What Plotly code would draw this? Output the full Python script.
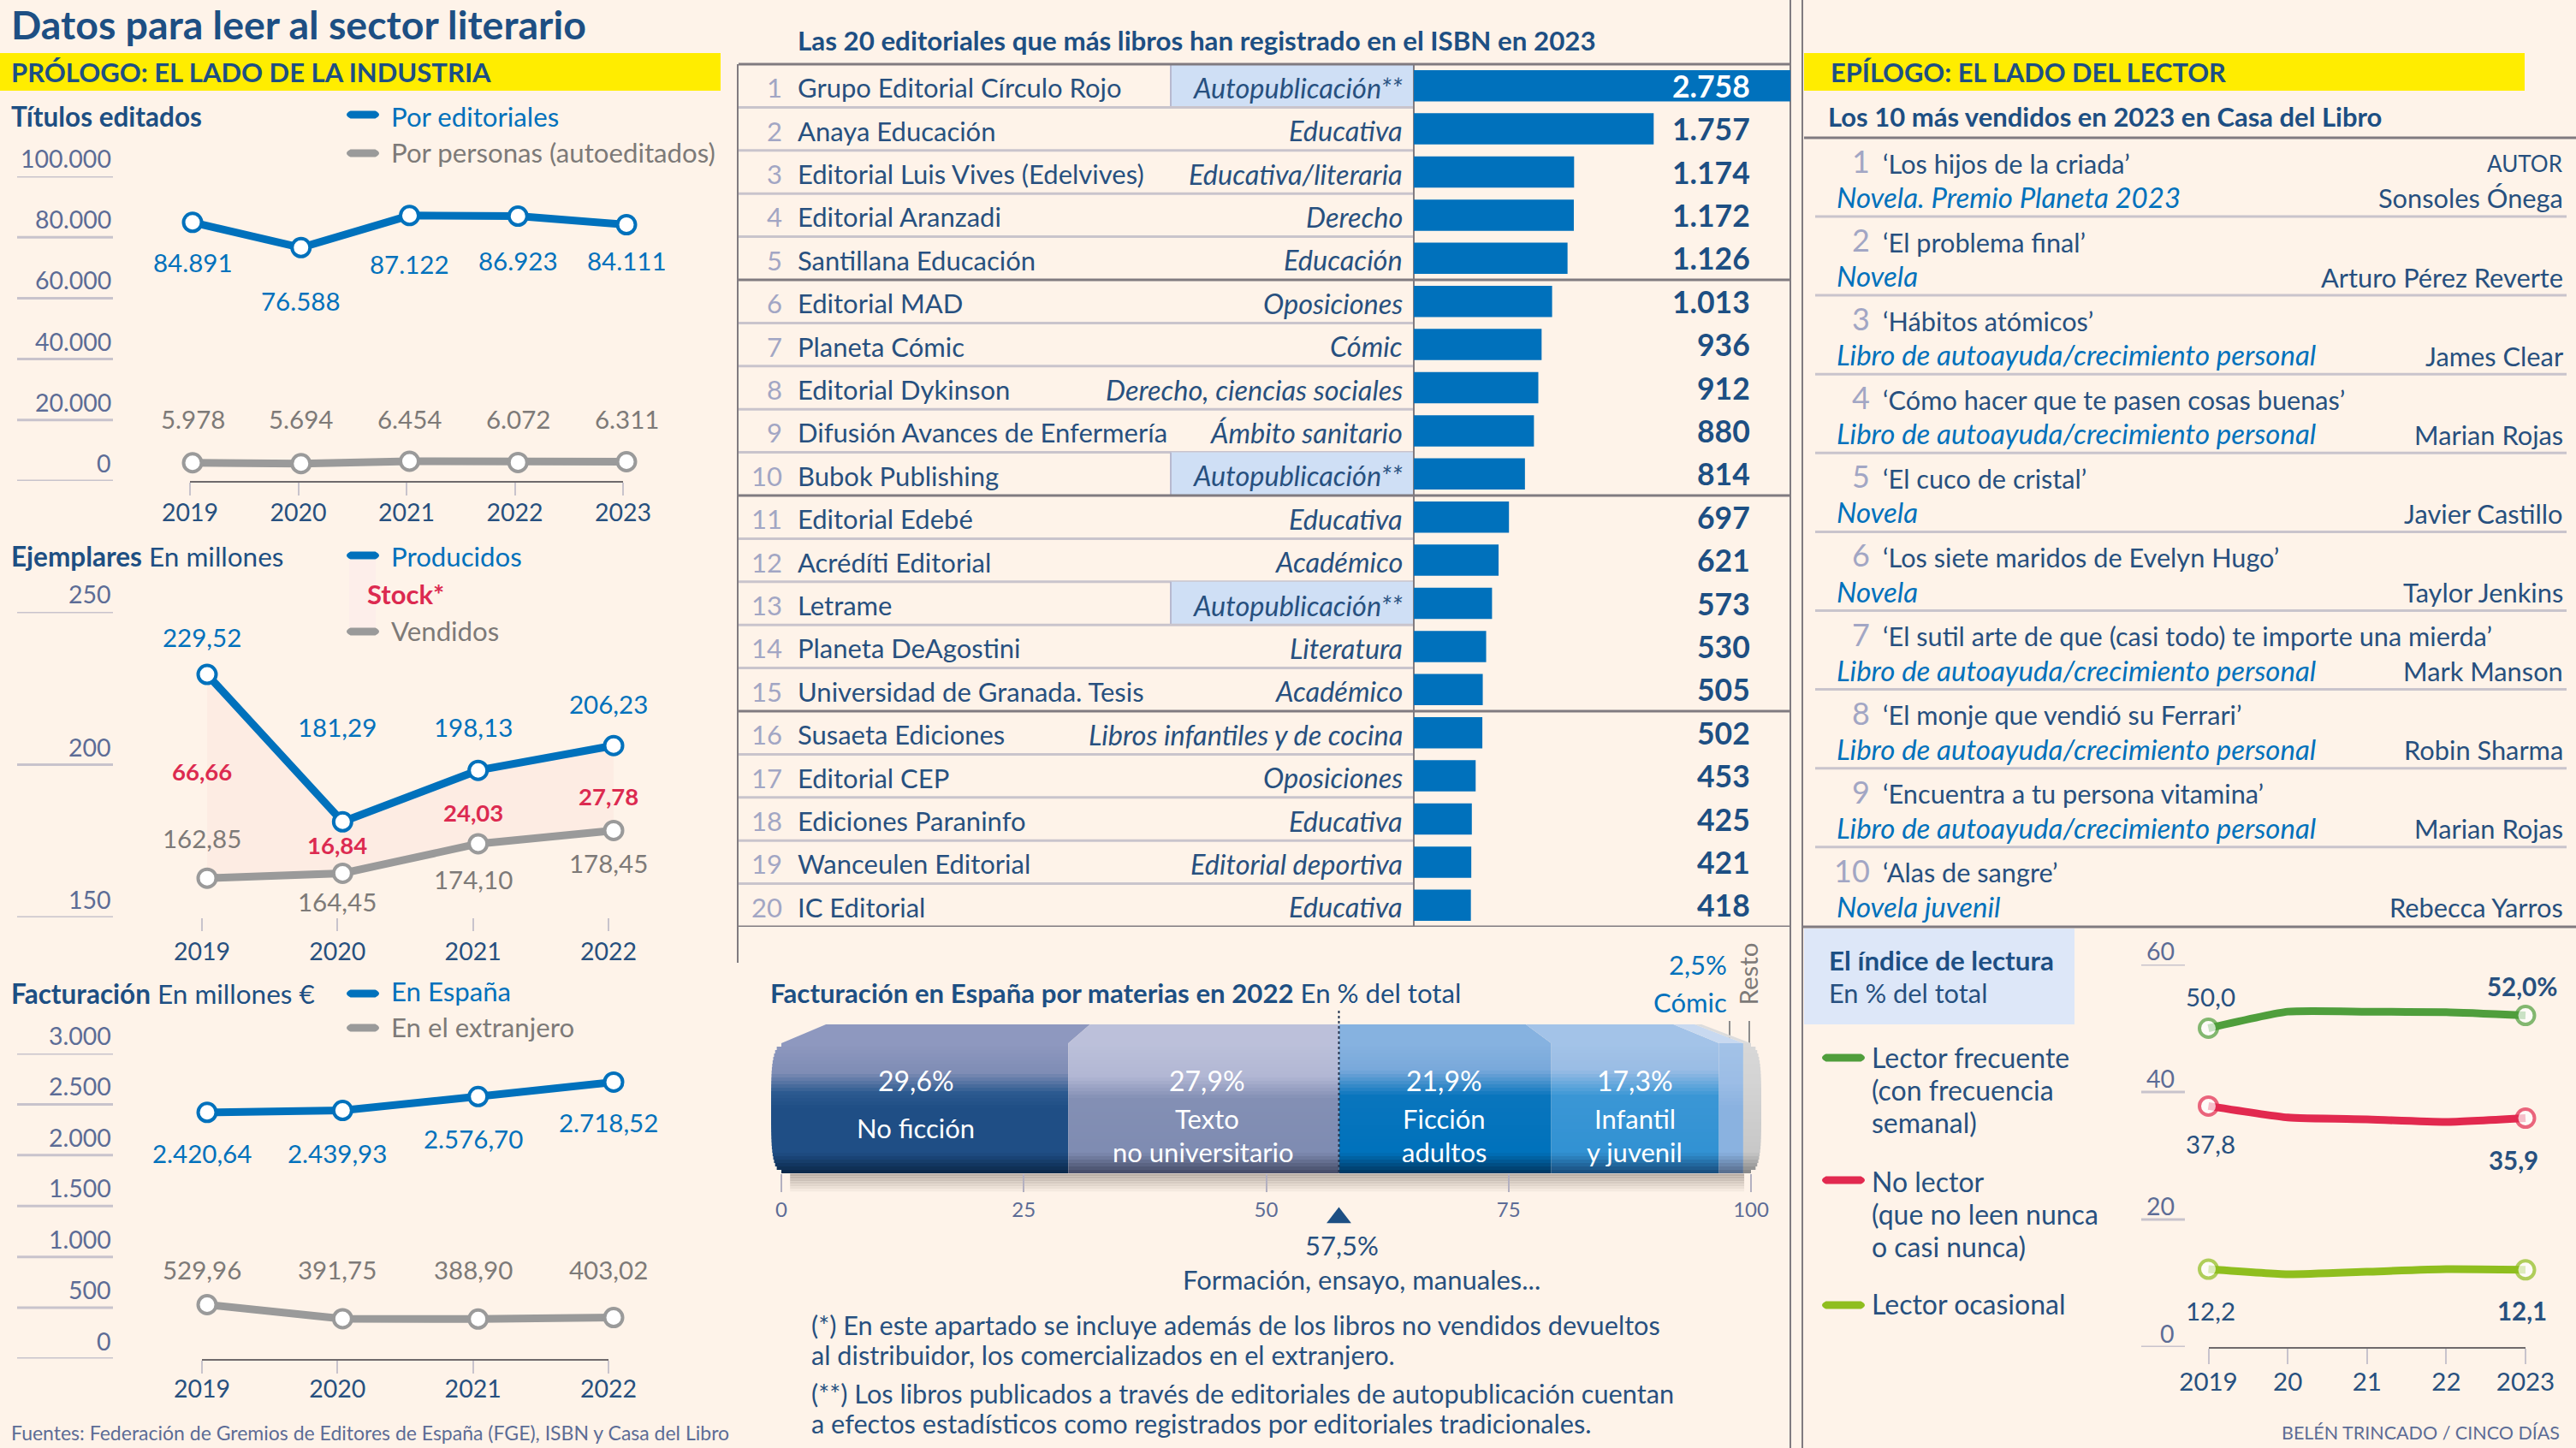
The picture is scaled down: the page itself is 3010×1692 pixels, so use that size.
import plotly.graph_objects as go

# ---------- data ----------
anos_titulos = [2019, 2020, 2021, 2022, 2023]
titulos_editoriales = [84891, 76588, 87122, 86923, 84111]
titulos_personas = [5978, 5694, 6454, 6072, 6311]
titulos_ticks = [0, 20000, 40000, 60000, 80000, 100000]

anos_ejemplares = [2019, 2020, 2021, 2022]
ejemplares_producidos = [229.52, 181.29, 198.13, 206.23]
ejemplares_vendidos = [162.85, 164.45, 174.10, 178.45]
ejemplares_stock = [66.66, 16.84, 24.03, 27.78]
ejemplares_ticks = [150, 200, 250]

facturacion_espana = [2420.64, 2439.93, 2576.70, 2718.52]
facturacion_extranjero = [529.96, 391.75, 388.90, 403.02]
facturacion_ticks = [0, 500, 1000, 1500, 2000, 2500, 3000]

editoriales = ["Grupo Editorial Círculo Rojo", "Anaya Educación", "Editorial Luis Vives (Edelvives)",
               "Editorial Aranzadi", "Santillana Educación", "Editorial MAD", "Planeta Cómic",
               "Editorial Dykinson", "Difusión Avances de Enfermería", "Bubok Publishing",
               "Editorial Edebé", "Acrédíti Editorial", "Letrame", "Planeta DeAgostini",
               "Universidad de Granada. Tesis", "Susaeta Ediciones", "Editorial CEP",
               "Ediciones Paraninfo", "Wanceulen Editorial", "IC Editorial"]
sectores = ["Autopublicación**", "Educativa", "Educativa/literaria", "Derecho", "Educación",
            "Oposiciones", "Cómic", "Derecho, ciencias sociales", "Ámbito sanitario", "Autopublicación**",
            "Educativa", "Académico", "Autopublicación**", "Literatura", "Académico",
            "Libros infantiles y de cocina", "Oposiciones", "Educativa", "Editorial deportiva", "Educativa"]
registrados = [2758, 1757, 1174, 1172, 1126, 1013, 936, 912, 880, 814,
               697, 621, 573, 530, 505, 502, 453, 425, 421, 418]

materias = ["No ficción", "Texto no universitario", "Ficción adultos", "Infantil y juvenil", "Cómic", "Resto"]
materias_pct = [29.6, 27.9, 21.9, 17.3, 2.5, 0.8]
materias_ticks = [0, 25, 50, 75, 100]

libros_titulo = ["‘Los hijos de la criada’", "‘El problema final’", "‘Hábitos atómicos’",
                 "‘Cómo hacer que te pasen cosas buenas’", "‘El cuco de cristal’",
                 "‘Los siete maridos de Evelyn Hugo’",
                 "‘El sutil arte de que (casi todo) te importe una mierda’",
                 "‘El monje que vendió su Ferrari’", "‘Encuentra a tu persona vitamina’", "‘Alas de sangre’"]
libros_genero = ["Novela. Premio Planeta 2023", "Novela", "Libro de autoayuda/crecimiento personal",
                 "Libro de autoayuda/crecimiento personal", "Novela", "Novela",
                 "Libro de autoayuda/crecimiento personal", "Libro de autoayuda/crecimiento personal",
                 "Libro de autoayuda/crecimiento personal", "Novela juvenil"]
libros_autor = ["Sonsoles Ónega", "Arturo Pérez Reverte", "James Clear", "Marian Rojas", "Javier Castillo",
                "Taylor Jenkins", "Mark Manson", "Robin Sharma", "Marian Rojas", "Rebecca Yarros"]

anos_lectura = [2019, 2020, 2021, 2022, 2023]
anos_lectura_txt = ["2019", "20", "21", "22", "2023"]
lector_frecuente = [50.0, 52.6, 52.6, 52.5, 52.0]
no_lector = [37.8, 36.0, 35.7, 35.3, 35.9]
lector_ocasional = [12.2, 11.4, 11.8, 12.2, 12.1]
lectura_ticks = [0, 20, 40, 60]

# ---------- style ----------
W, H = 3010, 1692
BG = "#fef3e9"
F = "Lato"
NAVY = "#1d4f83"
TXT = "#27507f"
BLUE = "#0071bc"
GREY = "#9a9a9a"
GTXT = "#7d7a78"
RED = "#dc2a50"
AXT = "#5c6c96"
STUB = "#c8c3cc"
DARK = "#807b80"
LIGHT = "#c9c4cc"
RANK = "#a2a6c4"
S = 29.5
L = 31   # regular body text

fig = go.Figure()
axes = {}
ann = []
shp = []
_n = [1]


def nid():
    _n[0] += 1
    return _n[0]


def add_y(top, bottom, rng):
    n = nid()
    axes[f"yaxis{n}"] = dict(domain=[1 - bottom / H, 1 - top / H], range=rng, visible=False)
    return f"y{n}"


def add_x(left, right, rng, y, **kw):
    n = nid()
    d = dict(domain=[left / W, right / W], range=rng, anchor=y, visible=False)
    d.update(kw)
    axes[f"xaxis{n}"] = d
    axes["yaxis" + y[1:]].setdefault("anchor", f"x{n}")
    return f"x{n}"


def txt(s, x, y, size=S, color=TXT, anchor="left", xref="paper", yref="paper", angle=0, yshift=0):
    if xref == "paper":
        x = (x + {"left": -3, "right": 3, "center": 0}[anchor]) / W
    if yref == "paper":
        y = 1 - (y - 1.5) / H
    ann.append(dict(text=s, x=x, y=y, xref=xref, yref=yref, xanchor=anchor, yanchor="middle", showarrow=False,
                    textangle=angle, yshift=yshift, font=dict(family=F, size=size, color=color)))


def hline(x0, x1, y, color, width=2, yref="paper", layer="below"):
    shp.append(dict(type="line", xref="paper", yref=yref, x0=x0 / W, x1=x1 / W,
                    y0=1 - y / H if yref == "paper" else y, y1=1 - y / H if yref == "paper" else y,
                    line=dict(color=color, width=width), layer=layer))


def vline(x, y0, y1, color, width=2):
    shp.append(dict(type="line", xref="paper", yref="paper", x0=x / W, x1=x / W, y0=1 - y0 / H, y1=1 - y1 / H,
                    line=dict(color=color, width=width), layer="below"))


def rect(x0, x1, y0, y1, color):
    shp.append(dict(type="rect", xref="paper", yref="paper", x0=x0 / W, x1=x1 / W, y0=1 - y0 / H, y1=1 - y1 / H,
                    fillcolor=color, line=dict(width=0), layer="below"))


def pill(x0, x1, y, color, h=9):
    # rounded legend key
    r = h / 2
    X = lambda p: f"{p / W:.6f}"
    Y = lambda p: f"{1 - p / H:.6f}"
    path = (f"M{X(x0 + r)},{Y(y - r)} L{X(x1 - r)},{Y(y - r)} Q{X(x1 + r)},{Y(y)} {X(x1 - r)},{Y(y + r)} "
            f"L{X(x0 + r)},{Y(y + r)} Q{X(x0 - r)},{Y(y)} {X(x0 + r)},{Y(y - r)} Z")
    shp.append(dict(type="path", xref="paper", yref="paper", path=path, fillcolor=color, line=dict(width=0)))


def es_int(v):
    return f"{v:,}".replace(",", ".")


def es_dec(v, d=2):
    return f"{v:,.{d}f}".replace(",", "#").replace(".", ",").replace("#", ".")


def series(x, y, xa, ya, color, lw=9, msize=21, **kw):
    fig.add_trace(go.Scatter(x=x, y=y, xaxis=xa, yaxis=ya, mode="lines+markers", cliponaxis=False,
                             line=dict(color=color, width=lw),
                             marker=dict(size=msize, color="white", line=dict(color=color, width=4)), **kw))


def tick_axis(left, right, xs, labels, y, line=True, ticklen=15, standoff=0, size=S - 1):
    xa = add_x(left, right, [xs[0], xs[-1]], y, visible=True, showgrid=False, zeroline=False, showline=line,
               linecolor="#6f6a6c", linewidth=2, ticks="outside", ticklen=ticklen, tickwidth=2, tickcolor=STUB,
               tickmode="array", tickvals=xs, ticktext=labels, ticklabelstandoff=standoff,
               tickfont=dict(family=F, size=size, color=TXT))
    # an axis pair is only drawn once a trace refers to it
    fig.add_trace(go.Scatter(x=xs, y=[None] * len(xs), xaxis=xa, yaxis=y, mode="lines", hoverinfo="skip"))
    return xa


def ystubs(vals, labels, y, x0, x1, lab_x, up):
    for v, l in zip(vals, labels):
        hline(x0, x1, v, STUB, 3, yref=y)
        ann.append(dict(text=l, x=lab_x / W, y=v, xref="paper", yref=y, xanchor="right", yanchor="middle", yshift=up,
                        showarrow=False, font=dict(family=F, size=S - 1, color=AXT)))


def legend(x0, x1, y, color, tx, ty, s, tcolor):
    pill(x0, x1, y, color)
    txt(s, tx, ty, L + .2, tcolor)


# ---------- header ----------
txt("<b>Datos para leer al sector literario</b>", 14, 30, 46.5, NAVY)
rect(0, 842, 62, 106, "#ffed00")
txt("<b>PRÓLOGO: EL LADO DE LA INDUSTRIA</b>", 14, 85, 31, NAVY)
rect(2108, 2950, 62, 106, "#ffed00")
txt("<b>EPÍLOGO: EL LADO DEL LECTOR</b>", 2140, 86, 30.8, NAVY)

# ---------- Títulos editados ----------
y1 = add_y(206, 562, [0, 100000])
px2yr = lambda p: 2019 + (p - 225) / (732 - 225) * 4
xb1 = add_x(150, 800, [px2yr(150), px2yr(800)], y1)
tick_axis(222, 728, anos_titulos, [str(a) for a in anos_titulos], y1, standoff=-4)
series(anos_titulos, titulos_editoriales, xb1, y1, BLUE)
series(anos_titulos, titulos_personas, xb1, y1, GREY)
ystubs(titulos_ticks, [es_int(v) for v in titulos_ticks], y1, 20, 132, 132, 21)
txt("<b>Títulos editados</b>", 14, 137, 31.5, NAVY)
legend(405, 443, 134, BLUE, 458, 137, "Por editoriales", BLUE)
legend(405, 443, 179, GREY, 458, 179, "Por personas (autoeditados)", GTXT)
for a, v, ly in zip(anos_titulos, titulos_editoriales, [308, 353, 310, 306, 306]):
    txt(es_int(v), a, ly, color=BLUE, anchor="center", xref=xb1)
for a, v in zip(anos_titulos, titulos_personas):
    txt(es_int(v), a, 491, color=GTXT, anchor="center", xref=xb1)

# ---------- Ejemplares ----------
y2 = add_y(715, 1072, [150, 250])
px2yr2 = lambda p: 2019 + (p - 242) / (717 - 242) * 3
xb2 = add_x(150, 800, [px2yr2(150), px2yr2(800)], y2)
xt2 = tick_axis(236, 711, anos_ejemplares, [str(a) for a in anos_ejemplares], y2, line=False)
series(anos_ejemplares, ejemplares_producidos, xb2, y2, BLUE)
series(anos_ejemplares, ejemplares_vendidos, xb2, y2, GREY, fill="tonexty", fillcolor="rgba(226,50,80,0.035)")
ystubs(ejemplares_ticks, [str(v) for v in ejemplares_ticks], y2, 20, 132, 132, 21)
txt("<b>Ejemplares</b> En millones", 14, 651, 31.5, NAVY)
rect(408, 439, 654, 735, "#fdeeea")
legend(405, 443, 649, BLUE, 458, 651, "Producidos", BLUE)
txt("<b>Stock*</b>", 430, 695, 31, RED)
legend(405, 443, 738, GREY, 458, 738, "Vendidos", GTXT)
for a, v, ly in zip(anos_ejemplares, ejemplares_producidos, [746, 851, 851, 824]):
    txt(es_dec(v), a, ly, color=BLUE, anchor="center", xref=xt2)
for a, v, ly in zip(anos_ejemplares, ejemplares_vendidos, [981, 1055, 1029, 1010]):
    txt(es_dec(v), a, ly, color=GTXT, anchor="center", xref=xt2)
for a, v, ly in zip(anos_ejemplares, ejemplares_stock, [903, 989, 951, 932]):
    txt(f"<b>{es_dec(v)}</b>", a, ly, S - 2, RED, "center", xref=xt2)

# ---------- Facturación ----------
y3 = add_y(1231, 1587.5, [0, 3000])
xb3 = add_x(150, 800, [px2yr2(150), px2yr2(800)], y3)
xt3 = tick_axis(236, 711, anos_ejemplares, [str(a) for a in anos_ejemplares], y3, standoff=-6)
series(anos_ejemplares, facturacion_espana, xb3, y3, BLUE)
series(anos_ejemplares, facturacion_extranjero, xb3, y3, GREY)
ystubs(facturacion_ticks, [es_int(v) for v in facturacion_ticks], y3, 20, 132, 132, 21)
txt("<b>Facturación</b> En millones €", 14, 1162, 31.5, NAVY)
legend(405, 443, 1161, BLUE, 458, 1159, "En España", BLUE)
legend(405, 443, 1201, GREY, 458, 1201, "En el extranjero", GTXT)
for a, v, ly in zip(anos_ejemplares, facturacion_espana, [1349, 1349, 1332, 1313]):
    txt(es_dec(v), a, ly, color=BLUE, anchor="center", xref=xt3)
for a, v in zip(anos_ejemplares, facturacion_extranjero):
    txt(es_dec(v), a, 1485, color=GTXT, anchor="center", xref=xt3)
txt("Fuentes: Federación de Gremios de Editores de España (FGE), ISBN y Casa del Libro", 14, 1675, 23, AXT)

# ---------- Tabla editoriales ----------
yr = add_y(75, 1083, [20.5, 0.5])
xr = add_x(1652, 2092, [0, 2758], yr)
ranks = list(range(1, 21))
fig.add_trace(go.Bar(x=registrados, y=ranks, xaxis=xr, yaxis=yr, orientation="h", width=0.724,
                     marker=dict(color=BLUE, line=dict(width=0))))
txt("<b>Las 20 editoriales que más libros han registrado en el ISBN en 2023</b>", 933, 49, 31.3, NAVY)
for r, e, s, v in zip(ranks, editoriales, sectores, registrados):
    if s.startswith("Autopub"):
        shp.append(dict(type="rect", xref="paper", yref=yr, x0=1368 / W, x1=1652 / W, y0=r - .5, y1=r + .5,
                        fillcolor="#cfdff5", line=dict(width=0), layer="below"))
        shp.append(dict(type="line", xref="paper", yref=yr, x0=1368 / W, x1=1368 / W, y0=r - .5, y1=r + .5,
                        line=dict(color="#b7b9cf", width=2), layer="below"))
    txt(str(r), 913, r, L, RANK, "right", yref=yr, yshift=-2)
    txt(e, 933, r, L, TXT, "left", yref=yr, yshift=-2)
    txt(f"<i>{s}</i>", 1638, r, 32.5, TXT, "right", yref=yr, yshift=-2)
    txt(f"<b>{es_int(v)}</b>", 2044, r, 35.5, "white" if r == 1 else NAVY, "right", yref=yr)
    if r % 5 == 0:
        hline(863, 2092, r + .5, DARK, 3, yref=yr)
    else:
        hline(863, 1652, r + .5, LIGHT, 3, yref=yr)
hline(863, 2092, 75, DARK, 3)
vline(862, 75, 1125, DARK)
vline(1652, 75, 1083, DARK)
vline(2092, 0, 1692, DARK)
vline(2106, 0, 1692, DARK)

# ---------- Barra materias ----------
TOPF, FRONT, BOT = 1197, 1219, 1371
yb = add_y(1170, 1440, [1440, 1170])
pp = lambda p: (p - 913) / 11.33
xm = add_x(880, 2080, [pp(880), pp(2080)], yb)


def hex2(c):
    return tuple(int(c[i:i + 2], 16) for i in (1, 3, 5))


def ramp(stops, t):
    for (a, ca), (b, cb) in zip(stops, stops[1:]):
        if t <= b:
            f = (t - a) / (b - a)
            A, B = hex2(ca), hex2(cb)
            return "rgb(%d,%d,%d)" % tuple(A[i] + (B[i] - A[i]) * f for i in range(3))
    return stops[-1][1]


seg_tops = ["#8e98bf", "#bcc0da", "#86b2e0", "#a3c3e8", "#c8d9f0", "#dcdcdc"]
seg_ramps = [
    [(0, "#8e98bf"), (.22, "#7f8db5"), (.38, "#2c5a90"), (.5, "#1f4e85"), (.85, "#1f4e85"), (1, "#0c2a4c")],
    [(0, "#bcc0da"), (.25, "#b2b7d4"), (.42, "#8490b5"), (.85, "#7f8cb2"), (1, "#484e6a")],
    [(0, "#86b2e0"), (.2, "#79a9db"), (.4, "#0a76be"), (.85, "#0072bc"), (1, "#003a66")],
    [(0, "#a3c3e8"), (.2, "#9abde5"), (.4, "#3b97d6"), (.85, "#3292d3"), (1, "#1a5080")],
    [(0, "#a3c3e8"), (.3, "#9cbde6"), (.5, "#8ab2e0"), (.85, "#8ab2e0"), (1, "#5a7090")],
    [(0, "#d8d8d8"), (.3, "#d4d4d4"), (.85, "#c8c8c8"), (1, "#8a8a8a")],
]
# sombra
sh_y = list(range(1373, 1397, 3))
fig.add_trace(go.Bar(x=[sum(materias_pct) - 1.6] * len(sh_y), base=[0.9] * len(sh_y), y=sh_y, xaxis=xm, yaxis=yb,
                     orientation="h", width=3,
                     marker=dict(color=[ramp([(0, "#b9aea5"), (1, BG)], i / (len(sh_y) - 1)) for i in range(len(sh_y))],
                                 line=dict(width=0))))
band_y = list(range(FRONT + 2, BOT, 4))
n_b = len(band_y)
cap = [1.06 * (1 - (2 * k / (n_b - 1) - 1) ** 4) ** .5 for k in range(n_b)]  # curved ends of the "cylinder"
cum = 0
ft = lambda c: 57.5 + (c - 57.5) * (0.92 if c < 57.5 else 0.88)
for i, (m, v) in enumerate(zip(materias, materias_pct)):
    c0, c1 = cum, cum + v
    fig.add_trace(go.Scatter(x=[ft(c0), ft(c1), c1, c0, ft(c0)], y=[TOPF, TOPF, FRONT, FRONT, TOPF], xaxis=xm, yaxis=yb,
                             mode="lines", fill="toself", fillcolor=seg_tops[i], line=dict(width=0), name=m))
    bases = [c0 - (cap[k] if i == 0 else 0) for k in range(n_b)]
    widths = [v + (cap[k] if i in (0, 5) else 0) for k in range(n_b)]
    cols = [ramp(seg_ramps[i], k / (n_b - 1)) for k in range(n_b)]
    fig.add_trace(go.Bar(x=widths, base=bases, y=band_y, xaxis=xm, yaxis=yb, orientation="h",
                         width=4, name=m, marker=dict(color=cols, line=dict(width=0))))
    cum = c1
corte = materias_pct[0] + materias_pct[1]
fig.add_trace(go.Scatter(x=[corte, corte], y=[1181, BOT], xaxis=xm, yaxis=yb, mode="lines",
                         line=dict(color="#23344f", width=2, dash="dot")))
fig.add_trace(go.Scatter(x=[corte], y=[1423], xaxis=xm, yaxis=yb, mode="markers", cliponaxis=False,
                         marker=dict(symbol="triangle-up", size=25, color=NAVY)))
yt = add_y(1300, 1371, [0, 1])
tick_axis(913, 2046, materias_ticks, [str(t) for t in materias_ticks], yt, line=False, ticklen=21, size=24)
axes["xaxis" + str(_n[0])]["tickcolor"] = "#b3b0c0"
axes["xaxis" + str(_n[0])]["tickfont"]["color"] = AXT

txt("<b>Facturación en España por materias en 2022</b> En % del total", 901, 1161, 31.2, NAVY)
for s, x in zip(materias_pct[:4], [1070, 1410, 1687, 1910]):
    txt(es_dec(s, 1) + "%", x, 1264, 32, "white", "center")
txt("No ficción", 1070, 1319, L, "white", "center")
txt("Texto", 1410, 1308, L, "white", "center")
txt("no universitario", 1406, 1347, L, "white", "center")
txt("Ficción", 1687, 1308, L, "white", "center")
txt("adultos", 1687, 1347, L, "white", "center")
txt("Infantil", 1910, 1308, L, "white", "center")
txt("y juvenil", 1910, 1347, L, "white", "center")
txt(es_dec(materias_pct[4], 1) + "%", 2017, 1128, 31, BLUE, "right")
txt("Cómic", 2017, 1172, L, BLUE, "right")
txt("Resto", 2042, 1140, S, GTXT, "center", angle=-90)
vline(2021, 1193, 1233, "#8d8d8d")
vline(2044, 1193, 1233, "#8d8d8d")
txt(es_dec(corte, 1) + "%", 1568, 1456, L, TXT, "center")
txt("Formación, ensayo, manuales...", 1591, 1496, L, TXT, "center")
for s, y in zip(["(*) En este apartado se incluye además de los libros no vendidos devueltos",
                 "al distribuidor, los comercializados en el extranjero.",
                 "(**) Los libros publicados a través de editoriales de autopublicación cuentan",
                 "a efectos estadísticos como registrados por editoriales tradicionales."],
                [1550, 1585, 1630, 1665]):
    txt(s, 949, y, 30.7, TXT)

# ---------- Los 10 más vendidos ----------
txt("<b>Los 10 más vendidos en 2023 en Casa del Libro</b>", 2137, 137, 31, NAVY)
hline(2108, 3010, 161, DARK, 3)
txt("AUTOR", 2994, 192.5, 26, TXT, "right")
STEP = 92.1
for i, (t, g, a) in enumerate(zip(libros_titulo, libros_genero, libros_autor)):
    y0 = 192.5 + STEP * i
    txt(str(i + 1), 2184, y0 - 3, 36, RANK, "right")
    txt(t, 2201, y0, 30.7, TXT)
    txt(f"<i>{g}</i>", 2147, y0 + 39, 33, BLUE)
    txt(a, 2994, y0 + 41, 30.8, TXT, "right")
    if i < 9:
        hline(2121, 2999, 253 + STEP * i, LIGHT, 3)
hline(2106, 3010, 1083, DARK, 3)

# ---------- Índice de lectura ----------
rect(2108, 2424, 1085, 1197, "#dde7f8")
txt("<b>El índice de lectura</b>", 2138, 1123, 31.4, NAVY)
txt("En % del total", 2138, 1162, 30.8, TXT)
y5 = add_y(1127, 1574, [0, 60])
px2yr5 = lambda p: 2019 + (p - 2580.5) / (2951 - 2580.5) * 4
xb5 = add_x(2520, 3005, [px2yr5(2520), px2yr5(3005)], y5)
tick_axis(2580.5, 2951, anos_lectura, anos_lectura_txt, y5, ticklen=18, standoff=-4, size=S)
GREEN, LIME = "#4f9e3c", "#8fbe1e"
for vals, col in [(lector_frecuente, GREEN), (no_lector, "#e2294f"), (lector_ocasional, LIME)]:
    fig.add_trace(go.Scatter(x=anos_lectura, y=vals, xaxis=xb5, yaxis=y5, mode="lines+markers", cliponaxis=False,
                             line=dict(color=col, width=9, shape="spline", smoothing=0.5),
                             marker=dict(size=[21, 0, 0, 0, 21], color="white",
                                         line=dict(color=col, width=[4, 0, 0, 0, 4]))))
ystubs(lectura_ticks, [str(v) for v in lectura_ticks], y5, 2502, 2553, 2543, 16)
pill(2129, 2179, 1236, GREEN)
for s, y in zip(["Lector frecuente", "(con frecuencia", "semanal)"], [1237, 1275, 1313]):
    txt(s, 2188, y, 32)
pill(2129, 2179, 1379, "#e2294f")
for s, y in zip(["No lector", "(que no leen nunca", "o casi nunca)"], [1382, 1420, 1458]):
    txt(s, 2188, y, 32)
pill(2129, 2179, 1525, LIME)
txt("Lector ocasional", 2188, 1525, 32)
txt(es_dec(lector_frecuente[0], 1), 2583, 1166, S, TXT, "center")
txt(f"<b>{es_dec(lector_frecuente[-1], 1)}%</b>", 2947, 1154, S, TXT, "center")
txt(es_dec(no_lector[0], 1), 2583, 1338, S, TXT, "center")
txt(f"<b>{es_dec(no_lector[-1], 1)}</b>", 2937, 1357, S, TXT, "center")
txt(es_dec(lector_ocasional[0], 1), 2583, 1533, S, TXT, "center")
txt(f"<b>{es_dec(lector_ocasional[-1], 1)}</b>", 2947, 1533, S, TXT, "center")
txt("BELÉN TRINCADO / CINCO DÍAS", 2990, 1675, 21.5, AXT, "right")

fig.update_layout(width=W, height=H, margin=dict(l=0, r=0, t=0, b=0, pad=0, autoexpand=False), showlegend=False,
                  paper_bgcolor=BG, plot_bgcolor="rgba(0,0,0,0)", barmode="overlay",
                  annotations=ann, shapes=shp, **axes)
fig.write_html("out.html", config={"displayModeBar": False},
               post_script="document.body.style.margin='0';document.body.style.background='%s';" % BG)
